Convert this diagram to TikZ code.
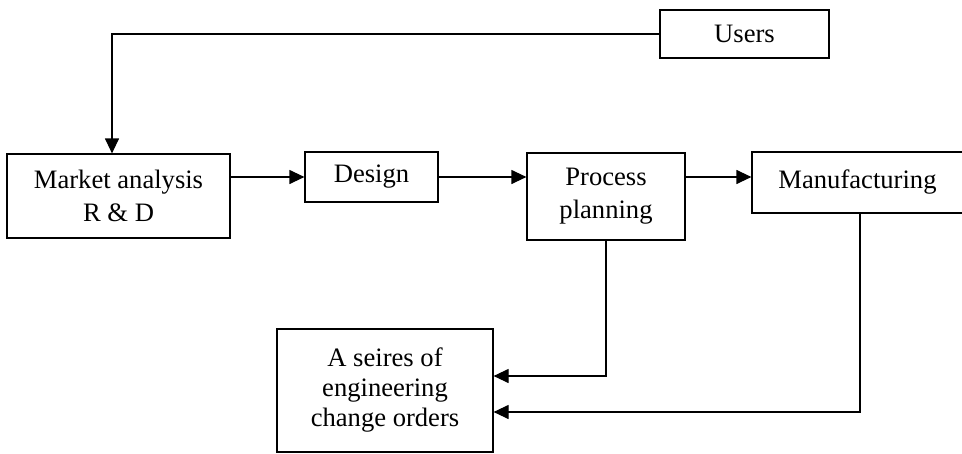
\documentclass[tikz,border=0pt]{standalone}
\usepackage{fontspec}
\setmainfont{Liberation Serif}
\usetikzlibrary{arrows.meta}
\begin{document}
\begin{tikzpicture}[x=1pt,y=-1pt,
  box/.style={draw, line width=1.2pt, inner sep=0pt, align=center,
    font=\fontsize{26.6}{33}\selectfont},
  arr/.style={line width=1.2pt, -{Triangle[length=15pt,width=14pt]}},
  link/.style={line width=1.2pt}]
\useasboundingbox (0,0) rectangle (962,453);

% boxes (centres and sizes in page units)
\node[box, minimum width=169pt, minimum height=48pt] (users) at (744.5,34) {Users};
\node[box, minimum width=223pt, minimum height=84pt] (mkt) at (118.5,196) {Market analysis\\R \& D};
\node[box, minimum width=133pt, minimum height=50pt] (design) at (371.5,177) {Design};
\node[box, minimum width=158pt, minimum height=87pt] (proc) at (606,196.5) {Process\\planning};
\node[box, minimum width=211pt, minimum height=61pt] (man) at (857.5,182.5) {Manufacturing};
\node[box, minimum width=216pt, minimum height=123pt,
  font=\fontsize{26.6}{30}\selectfont] (ser) at (385,390.5) {A seires of\\engineering\\change orders};

% feedback from users
\draw[arr] (users.west) -| ([xshift=-6.5pt]mkt.north);

% main flow
\draw[arr] (mkt.east |- design.west) -- (design.west);
\draw[arr] (design.east) -- (proc.west |- design.east);
\draw[arr] (proc.east |- design.east) -- (man.west |- design.east);

% change orders
\draw[arr] (proc.south) |- ([yshift=14.5pt]ser.east);
\draw[arr] ([xshift=2.5pt]man.south) |- ([yshift=-21.5pt]ser.east);
\end{tikzpicture}
\end{document}
